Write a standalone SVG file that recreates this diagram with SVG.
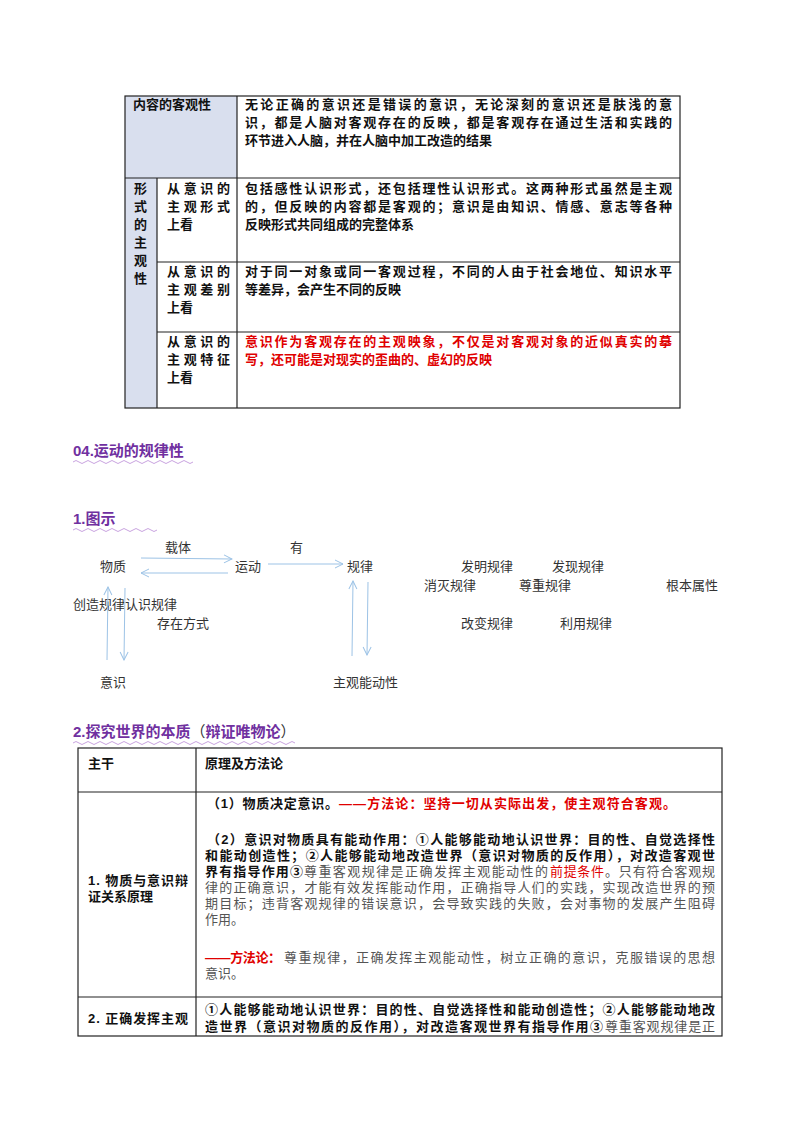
<svg xmlns="http://www.w3.org/2000/svg" width="800" height="1132" viewBox="0 0 800 1132">
<defs>
<style>
.t{font-family:"Liberation Sans","Noto Sans CJK SC",sans-serif;font-size:13px;fill:#111}
.b{font-weight:bold}
.r{fill:#e00000}
.g{fill:#555}
.d{font-family:"Liberation Sans","Noto Sans CJK SC",sans-serif;font-size:13px;fill:#333}
.h{font-family:"Liberation Sans","Noto Sans CJK SC",sans-serif;font-size:15px;font-weight:bold;fill:#7030a0}
.ln{stroke:#222;stroke-width:1.2;fill:none}
.ar{stroke:#9dc3e6;stroke-width:1;fill:none}
.wv{stroke:#c9a3e0;stroke-width:1;fill:none}
</style>
<marker id="m" markerWidth="10" markerHeight="10" refX="9" refY="5" orient="auto" markerUnits="userSpaceOnUse"><path d="M1,1 L9,5 L1,9" fill="none" stroke="#9dc3e6"/></marker>
</defs>
<rect width="800" height="1132" fill="#fff"/>
<g id="table1">
<rect x="125" y="96" width="112" height="82" fill="#d9dfee"/>
<rect x="125" y="178" width="32" height="230" fill="#d9dfee"/>
<rect x="125" y="96" width="555" height="312" class="ln"/>
<line x1="125" y1="178" x2="680" y2="178" class="ln"/>
<line x1="157" y1="262" x2="680" y2="262" class="ln"/>
<line x1="157" y1="332" x2="680" y2="332" class="ln"/>
<line x1="157" y1="178" x2="157" y2="408" class="ln"/>
<line x1="237" y1="96" x2="237" y2="408" class="ln"/>
<text class="t b" x="133" y="109">内容的客观性</text>
<text class="t b" x="245" y="109" textLength="427" lengthAdjust="spacing">无论正确的意识还是错误的意识，无论深刻的意识还是肤浅的意</text>
<text class="t b" x="245" y="127" textLength="427" lengthAdjust="spacing">识，都是人脑对客观存在的反映，都是客观存在通过生活和实践的</text>
<text class="t b" x="245" y="145">环节进入人脑，并在人脑中加工改造的结果</text>
<g class="t b"><text x="134" y="193">形</text><text x="134" y="211">式</text><text x="134" y="229">的</text><text x="134" y="247">主</text><text x="134" y="265">观</text><text x="134" y="283">性</text></g>
<text class="t b" x="167" y="193" textLength="63" lengthAdjust="spacing">从意识的</text>
<text class="t b" x="167" y="211" textLength="63" lengthAdjust="spacing">主观形式</text>
<text class="t b" x="167" y="229">上看</text>
<text class="t b" x="245" y="193" textLength="427" lengthAdjust="spacing">包括感性认识形式，还包括理性认识形式。这两种形式虽然是主观</text>
<text class="t b" x="245" y="211" textLength="427" lengthAdjust="spacing">的，但反映的内容都是客观的；意识是由知识、情感、意志等各种</text>
<text class="t b" x="245" y="229">反映形式共同组成的完整体系</text>
<text class="t b" x="167" y="276" textLength="63" lengthAdjust="spacing">从意识的</text>
<text class="t b" x="167" y="294" textLength="63" lengthAdjust="spacing">主观差别</text>
<text class="t b" x="167" y="312">上看</text>
<text class="t b" x="245" y="276" textLength="427" lengthAdjust="spacing">对于同一对象或同一客观过程，不同的人由于社会地位、知识水平</text>
<text class="t b" x="245" y="294">等差异，会产生不同的反映</text>
<text class="t b" x="167" y="346" textLength="63" lengthAdjust="spacing">从意识的</text>
<text class="t b" x="167" y="364" textLength="63" lengthAdjust="spacing">主观特征</text>
<text class="t b" x="167" y="382">上看</text>
<text class="t b r" x="245" y="346" textLength="427" lengthAdjust="spacing">意识作为客观存在的主观映象，不仅是对客观对象的近似真实的摹</text>
<text class="t b r" x="245" y="364">写，还可能是对现实的歪曲的、虚幻的反映</text>
</g>
<g id="headings">
<text class="h" x="73" y="456">04.运动的规律性</text>
<path class="wv" d="M73,462 q3,-3 6,0 t6,0 t6,0 t6,0 t6,0 t6,0 t6,0 t6,0 t6,0 t6,0 t6,0 t6,0 t6,0 t6,0 t6,0 t6,0 t6,0 t6,0 t6,0 t6,0"/>
<text class="h" x="73" y="524">1.图示</text>
<path class="wv" d="M73,530 q3,-3 6,0 t6,0 t6,0 t6,0 t6,0 t6,0 t6,0 t6,0 t6,0 t6,0 t6,0 t6,0 t6,0 t6,0"/>
<text class="h" x="73" y="737">2.探究世界的本质<tspan font-weight="normal" fill="#333">（</tspan>辩证唯物论<tspan font-weight="normal" fill="#333">）</tspan></text>
<path class="wv" d="M73,743 q3,-3 6,0 t6,0 t6,0 t6,0 t6,0 t6,0 t6,0 t6,0 t6,0 t6,0 t6,0 t6,0 t6,0 t6,0 t6,0 t6,0 t6,0 t6,0 t6,0 t6,0 t6,0 t6,0 t6,0 t6,0 t6,0 t6,0 t6,0 t6,0 t6,0 t6,0 t6,0 t6,0 t6,0 t6,0 t6,0 t6,0 t6,0"/>
</g>
<g id="nodes">
<g id="n1"><text class="d" x="165" y="552">载体</text></g>
<g id="n2"><text class="d" x="290" y="552">有</text></g>
<g id="n3"><text class="d" x="100" y="571">物质</text></g>
<g id="n4"><text class="d" x="235" y="571">运动</text></g>
<g id="n5"><text class="d" x="347" y="571">规律</text></g>
<g id="n6"><text class="d" x="461" y="571">发明规律</text></g>
<g id="n7"><text class="d" x="552" y="571">发现规律</text></g>
<g id="n8"><text class="d" x="424" y="590">消灭规律</text></g>
<g id="n9"><text class="d" x="519" y="590">尊重规律</text></g>
<g id="n10"><text class="d" x="666" y="590">根本属性</text></g>
<g id="n11"><text class="d" x="73" y="609">创造规律认识规律</text></g>
<g id="n12"><text class="d" x="157" y="628">存在方式</text></g>
<g id="n13"><text class="d" x="461" y="628">改变规律</text></g>
<g id="n14"><text class="d" x="560" y="628">利用规律</text></g>
<g id="n15"><text class="d" x="100" y="687">意识</text></g>
<g id="n16"><text class="d" x="333" y="687">主观能动性</text></g>
</g>
<g id="connectors">
<line class="ar" x1="141" y1="558" x2="232" y2="559" marker-end="url(#m)"/>
<line class="ar" x1="228" y1="573" x2="141" y2="573" marker-end="url(#m)"/>
<line class="ar" x1="268" y1="564" x2="343" y2="564" marker-end="url(#m)"/>
<line class="ar" x1="107" y1="660" x2="108" y2="587" marker-end="url(#m)"/>
<line class="ar" x1="125" y1="588" x2="124" y2="660" marker-end="url(#m)"/>
<line class="ar" x1="352" y1="656" x2="353" y2="581" marker-end="url(#m)"/>
<line class="ar" x1="368" y1="582" x2="367" y2="655" marker-end="url(#m)"/>
</g>
<g id="table2">
<rect x="78" y="748" width="644" height="288" class="ln"/>
<line x1="78" y1="792" x2="722" y2="792" class="ln"/>
<line x1="78" y1="997" x2="722" y2="997" class="ln"/>
<line x1="196" y1="748" x2="196" y2="1036" class="ln"/>
<text class="t b" x="88" y="768">主干</text>
<text class="t b" x="205" y="768">原理及方法论</text>
<text class="t b" x="88" y="885" textLength="100" lengthAdjust="spacing">1. 物质与意识辩</text>
<text class="t b" x="88" y="901">证关系原理</text>
<text class="t b" x="88" y="1023" textLength="100" lengthAdjust="spacing">2. 正确发挥主观</text>
<text class="t b" x="207" y="808" textLength="131" lengthAdjust="spacing">（1）物质决定意识。</text>
<text class="t b r" x="339" y="808" textLength="337" lengthAdjust="spacing">——方法论：坚持一切从实际出发，使主观符合客观。</text>
<text class="t b" x="207" y="844" textLength="508" lengthAdjust="spacing">（2）意识对物质具有能动作用：①人能够能动地认识世界：目的性、自觉选择性</text>
<text class="t b" x="205" y="860" textLength="510" lengthAdjust="spacing">和能动创造性；②人能够能动地改造世界（意识对物质的反作用），对改造客观世</text>
<text class="t b" x="205" y="876" textLength="98" lengthAdjust="spacing">界有指导作用③</text>
<text class="t g" x="304" y="876" textLength="244" lengthAdjust="spacing">尊重客观规律是正确发挥主观能动性的</text>
<text class="t r" x="550" y="876" textLength="54" lengthAdjust="spacing">前提条件</text>
<text class="t g" x="605" y="876" textLength="110" lengthAdjust="spacing">。只有符合客观规</text>
<text class="t g" x="205" y="892" textLength="510" lengthAdjust="spacing">律的正确意识，才能有效发挥能动作用，正确指导人们的实践，实现改造世界的预</text>
<text class="t g" x="205" y="908" textLength="510" lengthAdjust="spacing">期目标；违背客观规律的错误意识，会导致实践的失败，会对事物的发展产生阻碍</text>
<text class="t g" x="205" y="924">作用。</text>
<text class="t b r" x="205" y="962" textLength="76" lengthAdjust="spacing">——方法论：</text>
<text class="t g" x="284" y="962" textLength="431" lengthAdjust="spacing">尊重规律，正确发挥主观能动性，树立正确的意识，克服错误的思想</text>
<text class="t g" x="205" y="978">意识。</text>
<text class="t b" x="205" y="1014" textLength="510" lengthAdjust="spacing">①人能够能动地认识世界：目的性、自觉选择性和能动创造性；②人能够能动地改</text>
<text class="t b" x="205" y="1031" textLength="398" lengthAdjust="spacing">造世界（意识对物质的反作用），对改造客观世界有指导作用③</text>
<text class="t g" x="605" y="1031" textLength="110" lengthAdjust="spacing">尊重客观规律是正</text>
</g>
</svg>
